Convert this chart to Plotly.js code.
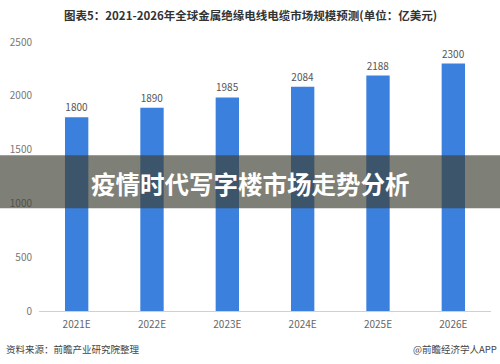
<!DOCTYPE html>
<html>
<head>
<meta charset="utf-8">
<script src="https://cdn.plot.ly/plotly-3.0.1.min.js"></script>
<style>html,body{margin:0;padding:0;background:#fff;}#chart{width:500px;height:364px;}</style>
</head>
<body>
<div id="chart"></div>
<script>
const categories = ["2021E", "2022E", "2023E", "2024E", "2025E", "2026E"];
const values = [1800, 1890, 1985, 2084, 2188, 2300];
const yTicks = [0, 500, 1000, 1500, 2000, 2500];
const chartTitle = "图表5：2021-2026年全球金属绝缘电线电缆市场规模预测(单位：亿美元)";
const sourceText = "资料来源：前瞻产业研究院整理";
const brandText = "@前瞻经济学人APP";
const bannerText = "疫情时代写字楼市场走势分析";

const font = "'Noto Sans CJK SC', 'Noto Sans', sans-serif";

const trace = {
  type: "bar",
  x: categories,
  y: values,
  width: 0.31,
  marker: {color: "#3a80dc"},
  text: values.map(String),
  textposition: "outside",
  cliponaxis: false,
  textfont: {size: 10, color: "#555", family: font},
  hoverinfo: "skip"
};

const layout = {
  width: 500, height: 364,
  margin: {l: 39, r: 9, t: 41.5, b: 53},
  paper_bgcolor: "#fff",
  plot_bgcolor: "#fff",
  showlegend: false,
  bargap: 0.69,
  xaxis: {
    type: "category",
    showgrid: false,
    showline: true, linecolor: "#d0d0d0", linewidth: 1,
    ticks: "", tickfont: {size: 10, color: "#666", family: font},
    ticklabelstandoff: 4
  },
  yaxis: {
    range: [0, 2500],
    tickvals: yTicks,
    showgrid: false, zeroline: false, showline: false,
    ticks: "", tickfont: {size: 10, color: "#777", family: font},
    ticklabelstandoff: 6
  },
  shapes: [{
    type: "rect", xref: "paper", yref: "paper",
    x0: -39/452, x1: 1 + 9/452, y0: (311-208)/269.5, y1: (311-155)/269.5,
    fillcolor: "rgba(62,64,50,0.67)", line: {width: 0}, layer: "above"
  }],
  annotations: [
    {text: "<b>" + chartTitle + "</b>", xref: "paper", yref: "paper", x: (250-39)/452, y: (311-14)/269.5,
     xanchor: "center", yanchor: "middle", showarrow: false, font: {size: 11.5, color: "#333", family: font}},
    {text: sourceText, xref: "paper", yref: "paper", x: (4-39)/452, y: (311-349)/269.5,
     xanchor: "left", yanchor: "middle", showarrow: false, font: {size: 9.5, color: "#444", family: font}},
    {text: brandText, xref: "paper", yref: "paper", x: (499-39)/452, y: (311-349)/269.5,
     xanchor: "right", yanchor: "middle", showarrow: false, font: {size: 9.5, color: "#444", family: font}},
    {text: "<b>" + bannerText + "</b>", xref: "paper", yref: "paper", x: (250-39)/452, y: (311-183)/269.5,
     xanchor: "center", yanchor: "middle", showarrow: false, font: {size: 24.5, color: "#fff", family: font}}
  ]
};

Plotly.newPlot("chart", [trace], layout, {displayModeBar: false, staticPlot: true});
</script>
</body>
</html>
